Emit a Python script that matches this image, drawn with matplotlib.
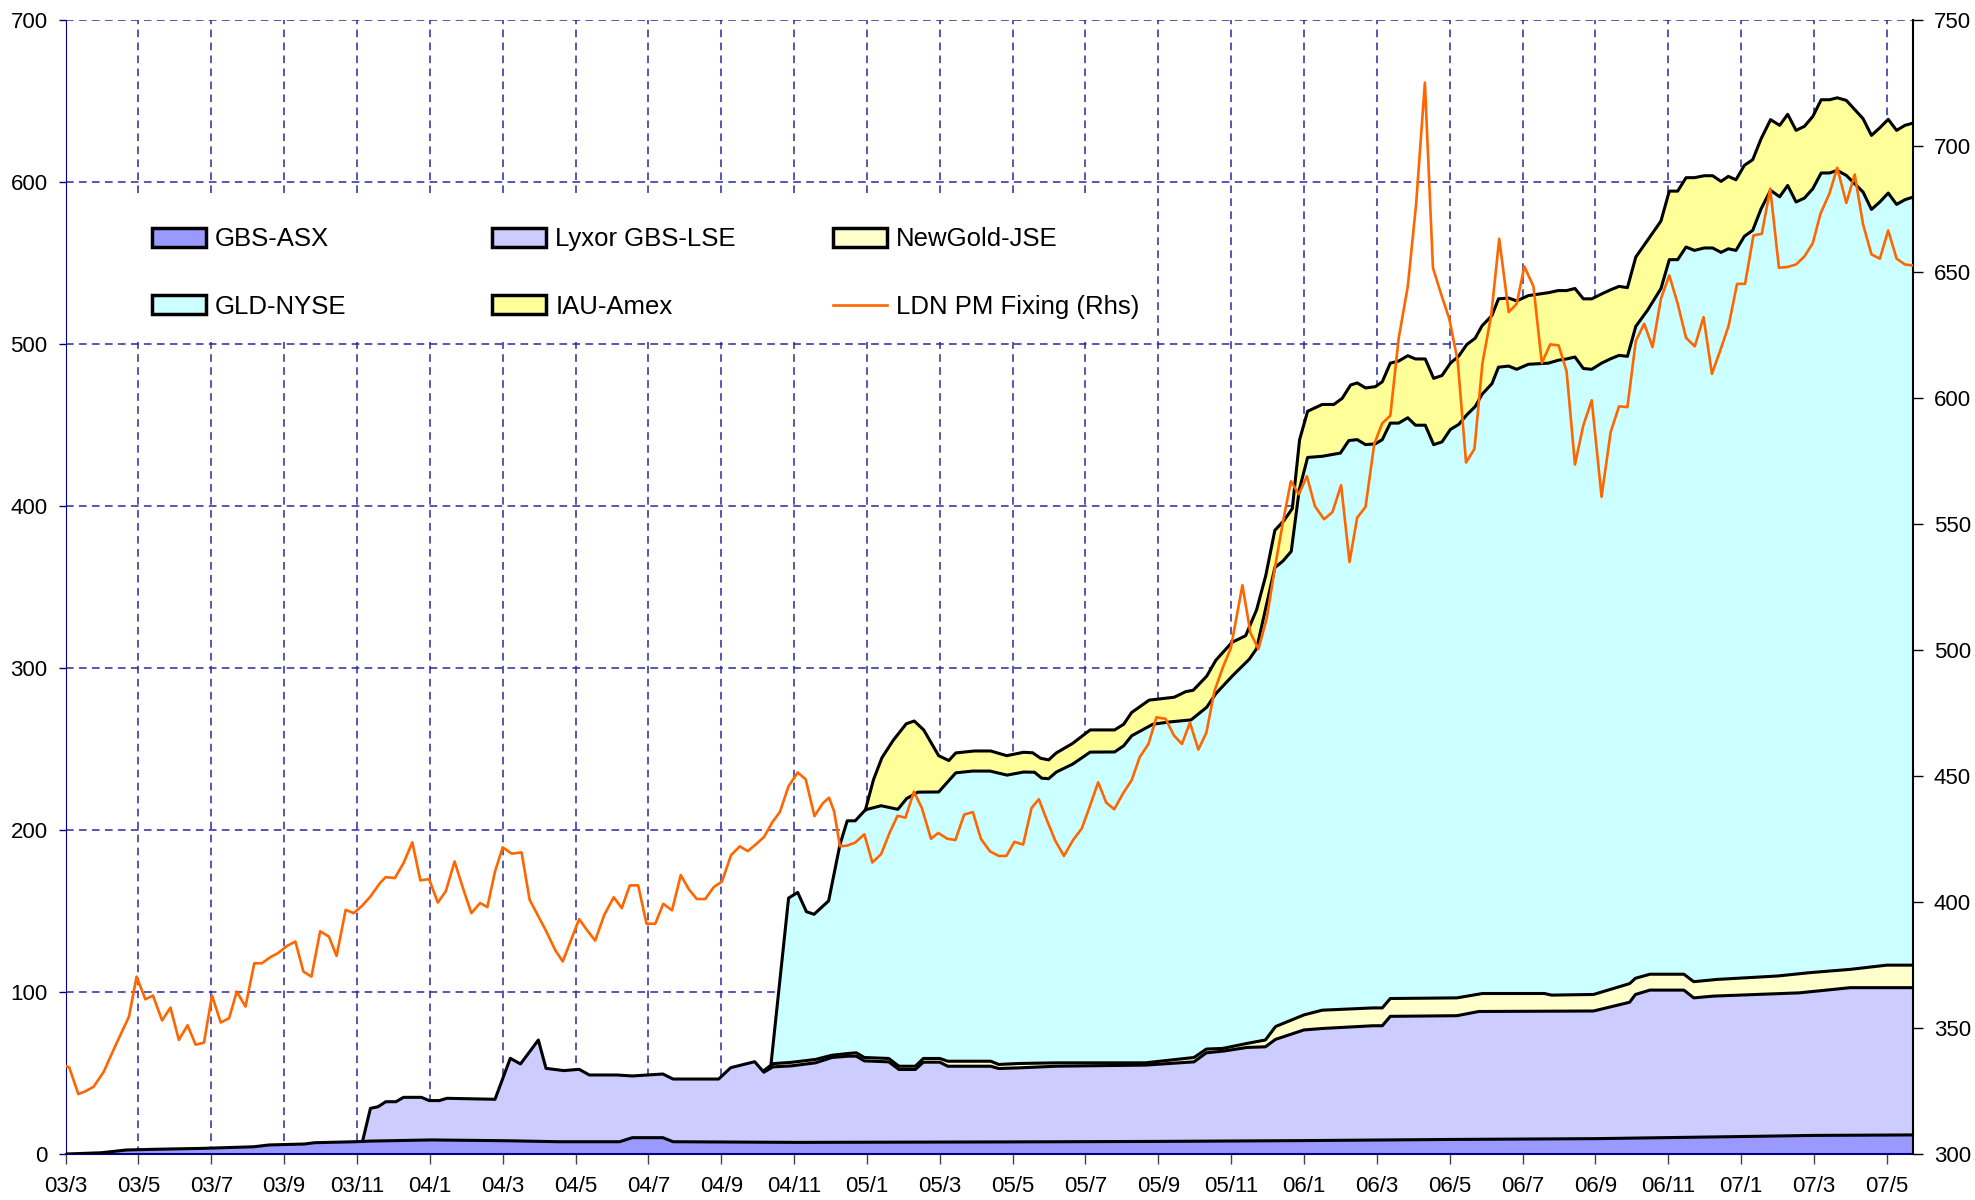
import matplotlib.pyplot as plt
from matplotlib.patches import Patch, Rectangle
from matplotlib.lines import Line2D

plt.rcParams['font.family'] = ['Liberation Sans', 'DejaVu Sans']

# x positions are months since Mar 2003 (03/3 = 0, 04/1 = 10, 05/1 = 22 ...)
tick_labels = ['03/3', '03/5', '03/7', '03/9', '03/11', '04/1', '04/3', '04/5', '04/7',
               '04/9', '04/11', '05/1', '05/3', '05/5', '05/7', '05/9', '05/11', '06/1',
               '06/3', '06/5', '06/7', '06/9', '06/11', '07/1', '07/3', '07/5']

# cumulative holdings (tonnes), top edge of each stacked layer
gbs_t = [0, 0.98, 1.67, 2.37, 3.77, 5.17, 5.58, 6.56, 6.84, 7.96, 8.37, 10.05, 12.14, 13.54,
         15.21, 15.56, 16.4, 16.68, 20.07, 26, 30, 34, 38, 42, 46, 48, 50.72]
gbs_top = [0, 0.8, 2.5, 2.9, 3.5, 4.5, 5.6, 6.2, 7.0, 7.6, 8.0, 8.7, 8.2, 7.6,
           7.6, 10.1, 10.1, 7.6, 7.2, 7.5, 7.8, 8.3, 9.0, 9.5, 10.8, 11.5, 11.8]

lyx_t = [8.16, 8.37, 8.58, 8.79, 9.07, 9.28, 9.77, 9.98, 10.26, 10.47, 11.79, 12.21, 12.49,
         12.98, 13.19, 13.68, 14.1, 14.38, 15.14, 15.56, 16.4, 16.68, 17.93, 18.26, 18.92,
         19.17, 19.42, 19.92, 20.59, 21.04, 21.49, 21.71, 21.93, 22.6, 22.88, 23.33, 23.55,
         24.0, 24.22, 25.4, 25.62, 26.18, 27.18, 29.64, 30.98, 31.32, 31.77, 32.44, 32.94,
         33.22, 34.0, 34.5, 35.9, 36.15, 36.37, 38.2, 38.8, 41.95, 42.94, 43.1, 43.5, 44.43,
         44.7, 45.25, 47.6, 49.0, 50.72]
lyx_top = [8.5, 28.2, 29.2, 32.3, 32.3, 35, 35, 33, 33, 34.4, 33.8, 59.1, 55.6,
           70.4, 52.9, 51.5, 52.3, 48.8, 48.8, 48.2, 49.4, 46.3, 46.3, 53.3, 57,
           50.5, 53.8, 54.4, 56.3, 59.6, 60.4, 60.4, 57.5, 56.9, 52.2, 52.2, 56.7,
           56.7, 54.2, 54.2, 52.8, 53.2, 54.2, 54.9, 56.9, 62.5, 63.5, 65.8, 66.2,
           70.8, 76.6, 77.5, 79.2, 79.2, 85, 85.4, 88, 88.3, 93.7, 98.5, 101.2, 101.2,
           96.4, 97.5, 99.5, 102.7, 102.7]

ng_t = [19.17, 19.42, 19.92, 20.59, 21.04, 21.49, 21.71, 21.93, 22.6, 22.88, 23.33, 23.55,
        24.0, 24.22, 25.4, 25.62, 26.18, 27.18, 29.64, 30.98, 31.32, 31.77, 32.44, 32.94,
        33.22, 34.0, 34.5, 35.9, 36.15, 36.37, 38.2, 38.9, 40.6, 40.8, 41.95, 42.94, 43.1,
        43.5, 44.43, 44.7, 45.35, 47.0, 47.9, 49.0, 50.0, 50.72]
ng_top = [51.5, 55.8, 56.6, 58.4, 61, 62.1, 62.5, 59.6, 59, 54.2, 54.2, 59,
          59, 57.3, 57.3, 55.3, 55.9, 56.3, 56.3, 59.6, 64.8, 65.2, 68.3, 70.4,
          78.7, 85.9, 88.8, 90.2, 90.2, 96, 96.4, 99.1, 99.1, 98.1, 98.5, 105.2, 108.5,
          111, 111, 106.4, 107.8, 109.9, 112, 114, 116.6, 116.6]

gld_t = [19.37, 19.85, 20.1, 20.34, 20.55, 20.95, 21.26, 21.46, 21.68, 21.96, 22.39, 22.85,
         23.09, 23.4, 23.97, 24.44, 24.9, 25.38, 25.85, 26.3, 26.6, 26.8, 26.99, 27.2, 27.65,
         28.13, 28.8, 29.05, 29.27, 29.85, 30.3, 30.9, 31.33, 31.58, 32.05, 32.5, 32.7, 33.2,
         33.42, 33.65, 33.87, 34.1, 34.5, 35.0, 35.23, 35.46, 35.69, 35.96, 36.15, 36.37,
         36.6, 36.85, 37.06, 37.33, 37.56, 37.79, 38.02, 38.25, 38.47, 38.7, 38.89, 39.16,
         39.34, 39.62, 39.84, 40.16, 40.71, 40.98, 41.21, 41.44, 41.67, 41.9, 42.17, 42.42,
         42.65, 42.88, 43.11, 43.43, 43.8, 44.03, 44.26, 44.49, 44.72, 44.99, 45.22, 45.45,
         45.65, 45.86, 46.09, 46.32, 46.55, 46.81, 47.06, 47.28, 47.51, 47.74, 47.97, 48.2,
         48.43, 48.64, 48.89, 49.35, 49.58, 49.81, 50.04, 50.27, 50.5, 50.72]
gld_top = [56, 158, 161.5, 149.6, 148, 156.3, 191, 205.7, 205.7, 212.5, 215, 212.8,
           219.4, 223.4, 223.5, 235.3, 236.4, 236.4, 233.9, 235.8, 235.7, 232, 231.7, 235.8, 240.7,
           248.1, 248.2, 252, 258.2, 265.3, 266.7, 268, 275.8, 284.2, 295.5, 305.5, 312, 362,
           366, 372, 410, 430, 430.7, 432.7, 440.4, 441, 437.9, 438.4, 441, 451.2,
           451.2, 454.5, 449.9, 449.9, 437.9, 439.6, 447.3, 450.4, 456.3, 461.4, 469, 475.5,
           485.7, 486.4, 484.4, 487.5, 488.2, 490, 490.8, 492, 484.9, 484.4, 488.2, 490.9,
           493, 492.4, 510.9, 520.8, 534.2, 552.1, 552.1, 559.9, 557.8, 559.3, 559.3, 556.6,
           558.8, 557.8, 566.5, 570.2, 583.5, 594.9, 590.9, 597.9, 587.7, 590.1, 595.9, 605.6,
           605.6, 607.2, 604.1, 593.8, 583.1, 587.7, 593.2, 586.2, 589.1, 590.7]

iau_t = [21.96, 22.18, 22.41, 22.72, 23.08, 23.3, 23.56, 23.97, 24.25, 24.44, 24.95, 25.4,
         25.84, 26.3, 26.55, 26.77, 26.99, 27.2, 27.65, 28.13, 28.8, 29.05, 29.27, 29.75,
         30.44, 30.75, 30.96, 31.33, 31.58, 32.02, 32.4, 32.7, 32.95, 33.2, 33.45, 33.68,
         33.88, 34.1, 34.5, 34.82, 35.05, 35.28, 35.46, 35.69, 35.96, 36.15, 36.37, 36.6,
         36.85, 37.06, 37.33, 37.56, 37.79, 38.02, 38.25, 38.47, 38.7, 38.89, 39.16, 39.34,
         39.62, 39.84, 40.16, 40.71, 40.98, 41.21, 41.44, 41.67, 41.9, 42.17, 42.42, 42.65,
         42.88, 43.11, 43.43, 43.8, 44.03, 44.26, 44.49, 44.72, 44.99, 45.22, 45.45, 45.65,
         45.86, 46.09, 46.32, 46.55, 46.81, 47.06, 47.28, 47.51, 47.74, 47.97, 48.2, 48.43,
         48.64, 48.89, 49.35, 49.58, 49.81, 50.04, 50.27, 50.5, 50.72]
iau_top = [212.5, 231, 244.5, 255.3, 265.6, 267.3, 261.8, 245.9, 242.9, 247.6, 248.8, 248.8,
           245.9, 248, 247.7, 244.3, 243.3, 247.6, 253.5, 261.8, 261.8, 265.3, 272.6, 280.2,
           282, 285.4, 286.3, 295, 304.8, 315.8, 320, 336, 357, 385, 391, 398.5,
           441, 458.5, 462.7, 462.7, 466.5, 474.7, 476, 472.9, 473.7, 476.7, 488.2, 489.5,
           492.8, 490.8, 490.8, 478.8, 480.6, 488.2, 492.6, 499.7, 503.6, 511.3, 517.6, 527.9,
           528.4, 526.6, 529.9, 531.7, 533, 533, 534.3, 527.9, 527.9, 530.9, 533.5, 535.6,
           534.8, 553.7, 564, 575.9, 594.4, 594.4, 602.7, 602.7, 603.9, 603.9, 600.4, 603.5,
           601.4, 610.3, 613.8, 626.7, 638.5, 635, 641.8, 631.9, 634.4, 640.5, 650.8, 650.8,
           652, 650.4, 639.1, 628.8, 633.5, 638.7, 631.9, 635, 636.4]

# London PM fixing, USD/oz (right axis)
fix_t = [0, 0.1, 0.35, 0.53, 0.77, 1.05, 1.19, 1.4, 1.74, 1.95, 2.19, 2.4, 2.65, 2.88, 3.11,
         3.35, 3.57, 3.8, 4.02, 4.26, 4.49, 4.7, 4.94, 5.18, 5.39, 5.62, 5.83, 6.08, 6.31,
         6.53, 6.75, 6.99, 7.23, 7.44, 7.69, 7.91, 8.14, 8.37, 8.63, 8.79, 9.04, 9.28, 9.52,
         9.74, 9.98, 10.22, 10.44, 10.68, 10.92, 11.14, 11.38, 11.58, 11.79, 12.0, 12.25,
         12.52, 12.74, 12.98, 13.2, 13.44, 13.65, 13.86, 14.1, 14.33, 14.54, 14.79, 15.05,
         15.27, 15.49, 15.72, 15.95, 16.19, 16.41, 16.65, 16.89, 17.11, 17.33, 17.56, 17.8,
         18.02, 18.27, 18.51, 18.73, 19.0, 19.18, 19.4, 19.61, 19.85, 20.1, 20.32, 20.56,
         20.79, 20.96, 21.1, 21.26, 21.46, 21.68, 21.93, 22.15, 22.39, 22.63, 22.84, 23.06,
         23.29, 23.51, 23.76, 23.96, 24.21, 24.43, 24.67, 24.91, 25.13, 25.38, 25.62, 25.83,
         26.05, 26.29, 26.52, 26.72, 26.95, 27.17, 27.41, 27.66, 27.9, 28.12, 28.35, 28.57,
         28.79, 29.04, 29.27, 29.49, 29.73, 29.95, 30.2, 30.43, 30.65, 30.87, 31.1, 31.32,
         31.54, 31.77, 31.99, 32.31, 32.53, 32.75, 32.98, 33.2, 33.42, 33.64, 33.86, 34.08,
         34.3, 34.55, 34.78, 35.02, 35.25, 35.46, 35.69, 35.93, 36.15, 36.37, 36.6, 36.85,
         37.08, 37.32, 37.54, 37.77, 37.99, 38.22, 38.45, 38.68, 38.9, 39.14, 39.36, 39.62,
         39.84, 40.05, 40.3, 40.53, 40.76, 40.99, 41.21, 41.44, 41.67, 41.9, 42.17, 42.42,
         42.65, 42.88, 43.11, 43.34, 43.57, 43.8, 44.03, 44.26, 44.49, 44.73, 44.97, 45.2,
         45.43, 45.66, 45.89, 46.11, 46.34, 46.57, 46.8, 47.04, 47.27, 47.51, 47.74, 47.97,
         48.18, 48.43, 48.64, 48.89, 49.12, 49.35, 49.58, 49.81, 50.04, 50.27, 50.5, 50.72]
fix_px = [335.0, 334.4, 323.8, 324.8, 326.7, 332.7, 337.3, 344, 354.5, 370.4, 361.4, 362.9, 353, 358.1, 345.3,
          351.1, 343.4, 344.2, 362.9, 352.2, 353.9, 364.5, 358.5, 375.7, 375.7, 378.1, 379.7, 382.6, 384.3,
          372.4, 370.4, 388.4, 386.3, 378.6, 396.9, 395.6, 398.5, 402.2, 407.5, 409.9, 409.5, 415.5, 423.7,
          408.6, 409.1, 399.8, 404.3, 416.1, 405.1, 395.6, 399.6, 398, 412.1, 421.7, 419.2,
          419.7, 400.9, 394.3, 388.3, 381, 376.4, 384.3, 393.2, 388.6, 384.7, 394.9, 401.9,
          397.6, 406.6, 406.6, 391.4, 391.4, 399.3, 396.7, 410.7, 405.1, 401.2, 401.2, 406,
          408.1, 418.6, 422.1, 420.2, 423.5, 425.9, 431.6, 435.7, 446, 451.4, 448.7, 434.1,
          439.2, 441.4, 436, 422.1, 422.4, 423.6, 426.9, 415.7, 419, 427.7, 434.2, 433.5,
          443.8, 437.3, 425.1, 427.4, 425.1, 424.6, 434.7, 435.7, 425.1, 420.1, 418.3, 418.3,
          423.9, 422.8, 437.3, 440.8, 432.2, 424.4, 418.3, 424.6, 429.2, 438, 447.5, 439.5,
          436.8, 443.3, 448.4, 457.5, 462.7, 473.3, 472.7, 466.1, 462.7, 471.2, 460.5, 467.2,
          483.6, 493, 500.7, 525.7, 506.8, 500.4, 512.7, 532.5, 550.6, 567, 561.8, 569,
          557.1, 551.9, 554.7, 565.4, 534.9, 552.5, 556.8, 581.8, 590, 593, 623.7, 644.3,
          677.2, 725.2, 651.7, 641, 631.4, 614.7, 574.4, 579.8, 613.9, 632.8, 663.2, 634.1,
          637.4, 652.2, 644.3, 613.9, 621.3, 620.9, 610.6, 573.6, 589.2, 599.1, 560.8, 586.5,
          596.7, 596.4, 622.6, 629.5, 620.2, 639.4, 648.7, 637.4, 623.9, 620.5, 632.1, 609.6,
          618.9, 628.8, 645.3, 645.3, 664.5, 665.2, 683.1, 651.7, 652, 653, 656.2, 661.5,
          673.1, 681.3, 691.4, 677.4, 688.7, 668.9, 657, 655.3, 666.5, 655.3, 653, 652.6]

names = ['GBS-ASX', 'Lyxor GBS-LSE', 'NewGold-JSE', 'GLD-NYSE', 'IAU-Amex']
colors = ['#9999FF', '#CCCCFF', '#FFFFCC', '#CCFFFF', '#FFFF99']

fig = plt.figure(figsize=(19.75, 12), dpi=100)
ax = fig.add_axes([0.0332, 0.0383, 0.9354, 0.945])

# draw from the top layer down so each lower layer covers the one above it
layers = [(iau_t, iau_top), (gld_t, gld_top), (ng_t, ng_top), (lyx_t, lyx_top), (gbs_t, gbs_top)]
layer_colors = colors[::-1]
for (t, top), c in zip(layers, layer_colors):
    ax.fill_between(t, top, 0, facecolor=c, edgecolor='none', zorder=2)
for t, top in layers:
    ax.plot(t, top, color='black', lw=2.2, zorder=3, solid_joinstyle='round')

ax.set_xlim(0, 50.72)
ax.set_ylim(0, 700)
ax.set_xticks(range(0, 51, 2))
ax.set_xticklabels(tick_labels)
ax.set_yticks(range(0, 701, 100))
ax.set_axisbelow(True)
ax.grid(True, color='#2a2a9a', linestyle=(0, (5, 3.5)), lw=1.1)

ax.tick_params(axis='x', direction='out', length=7, width=1, color='#444444', pad=9, labelsize=16)
ax.tick_params(axis='y', direction='out', length=5, width=1, color='#000080', pad=8, labelsize=16)
for s in ['top', 'right']:
    ax.spines[s].set_visible(False)
ax.spines['left'].set_color('#000080')
ax.spines['bottom'].set_color('#000080')
ax.spines['bottom'].set_linewidth(1.5)

ax2 = ax.twinx()
ax2.plot(fix_t, fix_px, color='#FF6600', lw=1.9, zorder=4)
ax2.set_ylim(300, 750)
ax2.set_yticks(range(300, 751, 50))
ax2.tick_params(axis='y', direction='out', length=7, width=1, color='black', pad=8, labelsize=16)
for s in ['top', 'left', 'bottom']:
    ax2.spines[s].set_visible(False)
ax2.spines['right'].set_color('black')
ax2.spines['right'].set_linewidth(1.5)

# white backdrop behind the legend (gridlines are hidden there)
ax.add_patch(Rectangle((0, 0.716), 0.588, 0.128, transform=ax.transAxes,
                       facecolor='white', edgecolor='none', zorder=0.8))

handles = [Patch(facecolor=c, edgecolor='black', lw=2.5) for c in colors]
handles.append(Line2D([], [], color='#FF6600', lw=1.9))
labels = names + ['LDN PM Fixing (Rhs)']

col_x = [0.0468, 0.2309, 0.4154]
for i, x0 in enumerate(col_x):
    leg = ax2.legend([handles[i], handles[i + 3]], [labels[i], labels[i + 3]],
                     loc='center left', bbox_to_anchor=(x0, 0.777), frameon=False,
                     fontsize=18.5, borderpad=0, borderaxespad=0, handlelength=2.1,
                     handleheight=0.76, handletextpad=0.36, labelspacing=1.7)
    if i < 2:
        ax2.add_artist(leg)

plt.savefig('out.png', dpi=100)
